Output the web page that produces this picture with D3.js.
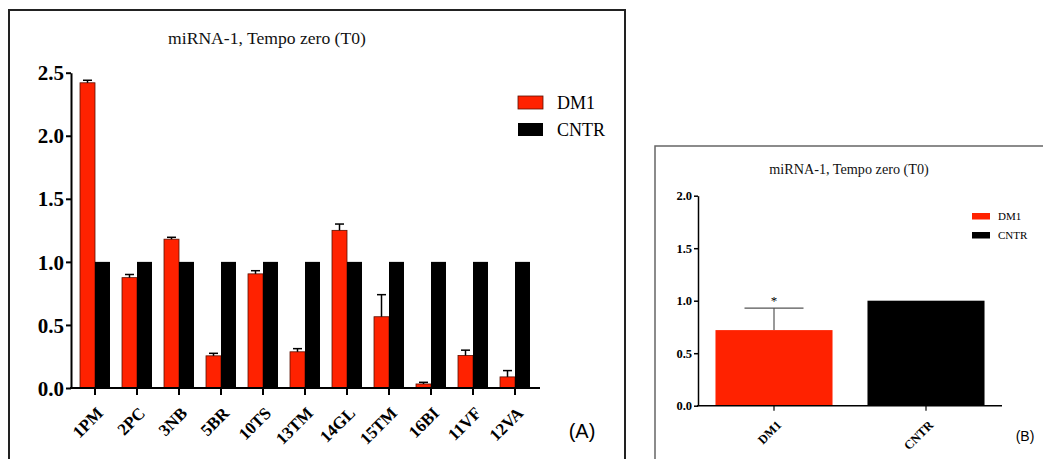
<!DOCTYPE html>
<html>
<head>
<meta charset="utf-8">
<script src="https://cdn.jsdelivr.net/npm/d3@7"></script>
<style>
body { margin: 0; background: #fff; }
svg { display: block; }
</style>
</head>
<body>
<script>
// data
const patients = ["1PM", "2PC", "3NB", "5BR", "10TS", "13TM", "14GL", "15TM", "16BI", "11VF", "12VA"];
const dm1 = [2.42, 0.875, 1.18, 0.255, 0.905, 0.287, 1.25, 0.565, 0.032, 0.258, 0.088];
const dm1Err = [0.02, 0.025, 0.015, 0.02, 0.025, 0.025, 0.05, 0.175, 0.013, 0.042, 0.05];
const cntr = [1, 1, 1, 1, 1, 1, 1, 1, 1, 1, 1];
const yTicksA = [0, 0.5, 1, 1.5, 2, 2.5];

const groupsB = ["DM1", "CNTR"];
const meansB = [0.72, 1.0];
const errB = [0.21, 0];
const yTicksB = [0, 0.5, 1, 1.5, 2];

const series = ["DM1", "CNTR"];
const colors = {DM1: "#ff2200", CNTR: "#000000"};
const serif = "'Liberation Serif', 'Times New Roman', serif";
const sans = "'Liberation Sans', Arial, sans-serif";

const W = 1043, H = 459;
const svg = d3.select("body").append("svg")
  .attr("width", W)
  .attr("height", H);

// ---------- panel A ----------
svg.append("rect")
  .attr("x", 9).attr("y", 10)
  .attr("width", 616).attr("height", 500)
  .attr("fill", "none").attr("stroke", "#222").attr("stroke-width", 2);

const yA = d3.scaleLinear().domain([0, 2.5]).range([388, 72.7]);
const x0 = d3.scaleBand().domain(patients).range([74, 536])
  .paddingInner(0.286).paddingOuter(0.143);
const x1 = d3.scaleBand().domain(series).range([0, x0.bandwidth()]);

const gA = svg.append("g");

gA.append("text")
  .attr("x", 267).attr("y", 44)
  .attr("text-anchor", "middle")
  .attr("fill", "#111")
  .style("font-family", serif).style("font-size", "17.6px")
  .text("miRNA-1, Tempo zero (T0)");

// bars
const rowsA = patients.map((p, i) => ({p: p, DM1: dm1[i], CNTR: cntr[i], err: dm1Err[i]}));

const grp = gA.selectAll("g.grp")
  .data(rowsA)
  .enter()
  .append("g")
  .attr("class", "grp")
  .attr("transform", d => "translate(" + x0(d.p) + ",0)");

grp.selectAll("rect")
  .data(d => series.map(s => ({s: s, v: d[s]})))
  .enter()
  .append("rect")
  .attr("x", d => x1(d.s))
  .attr("width", x1.bandwidth())
  .attr("y", d => yA(d.v))
  .attr("height", d => yA(0) - yA(d.v))
  .attr("fill", d => colors[d.s])
  .attr("stroke", d => d.s == "DM1" ? "#5a1000" : "none")
  .attr("stroke-width", 0.8);

// error bars (upper only)
const eb = grp.append("g")
  .attr("stroke", "#000").attr("stroke-width", 1.5);
eb.append("line")
  .attr("x1", x1("DM1") + x1.bandwidth() / 2)
  .attr("x2", x1("DM1") + x1.bandwidth() / 2)
  .attr("y1", d => yA(d.DM1))
  .attr("y2", d => yA(d.DM1 + d.err));
eb.append("line")
  .attr("x1", x1("DM1") + x1.bandwidth() / 2 - 4.5)
  .attr("x2", x1("DM1") + x1.bandwidth() / 2 + 4.5)
  .attr("y1", d => yA(d.DM1 + d.err))
  .attr("y2", d => yA(d.DM1 + d.err));

// y axis
const axA = gA.append("g")
  .attr("transform", "translate(71,0)")
  .call(d3.axisLeft(yA).tickValues(yTicksA).tickFormat(d3.format(".1f")).tickSize(5).tickSizeOuter(0).tickPadding(2));
axA.select(".domain").attr("stroke-width", 2);
axA.selectAll(".tick line").attr("stroke-width", 2);
axA.selectAll("text")
  .style("font-family", serif).style("font-size", "21px").style("font-weight", "bold")
  .attr("dy", "0.34em");

// x axis
gA.append("line")
  .attr("x1", 70).attr("x2", 540)
  .attr("y1", yA(0)).attr("y2", yA(0))
  .attr("stroke", "#000").attr("stroke-width", 2);
const xt = gA.selectAll("g.xt")
  .data(patients)
  .enter()
  .append("g")
  .attr("class", "xt")
  .attr("transform", d => "translate(" + (x0(d) + x0.bandwidth() / 2) + "," + yA(0) + ")");
xt.append("line").attr("y2", 7).attr("stroke", "#000").attr("stroke-width", 2);
xt.append("text")
  .attr("transform", "translate(5,22) rotate(-45)")
  .attr("text-anchor", "end")
  .attr("dy", "0.35em")
  .style("font-family", serif).style("font-size", "17px").style("font-weight", "bold")
  .text(d => d);

// legend
const legA = gA.selectAll("g.leg")
  .data(series)
  .enter()
  .append("g")
  .attr("class", "leg")
  .attr("transform", (d, i) => "translate(518," + (96 + i * 27) + ")");
legA.append("rect")
  .attr("width", 25).attr("height", 13)
  .attr("fill", d => colors[d])
  .attr("stroke", d => d == "DM1" ? "#5a1000" : "none").attr("stroke-width", 0.8);
legA.append("text")
  .attr("x", 39).attr("y", 13)
  .style("font-family", serif).style("font-size", "18px")
  .text(d => d);

gA.append("text")
  .attr("x", 582).attr("y", 438)
  .attr("text-anchor", "middle")
  .style("font-family", sans).style("font-size", "20px")
  .text("(A)");

// ---------- panel B ----------
svg.append("rect")
  .attr("x", 655).attr("y", 146)
  .attr("width", 420).attr("height", 400)
  .attr("fill", "none").attr("stroke", "#666").attr("stroke-width", 1.5);

const yB = d3.scaleLinear().domain([0, 2]).range([405.7, 195.7]);
const xB = d3.scaleBand().domain(groupsB).range([698, 1002])
  .paddingInner(0.23).paddingOuter(0.115);

const gB = svg.append("g");

gB.append("text")
  .attr("x", 849).attr("y", 174)
  .attr("text-anchor", "middle")
  .attr("fill", "#111")
  .style("font-family", serif).style("font-size", "14.2px")
  .text("miRNA-1, Tempo zero (T0)");

gB.selectAll("rect.bar")
  .data(groupsB)
  .enter()
  .append("rect")
  .attr("class", "bar")
  .attr("x", d => xB(d))
  .attr("width", xB.bandwidth())
  .attr("y", (d, i) => yB(meansB[i]))
  .attr("height", (d, i) => yB(0) - yB(meansB[i]))
  .attr("fill", d => colors[d]);

// error bar + significance mark on DM1
const cx = xB("DM1") + xB.bandwidth() / 2;
const ebB = gB.append("g").attr("stroke", "#555").attr("stroke-width", 1.2);
ebB.append("line")
  .attr("x1", cx).attr("x2", cx)
  .attr("y1", yB(meansB[0])).attr("y2", yB(meansB[0] + errB[0]));
ebB.append("line")
  .attr("x1", cx - 29.5).attr("x2", cx + 29.5)
  .attr("y1", yB(meansB[0] + errB[0])).attr("y2", yB(meansB[0] + errB[0]));
gB.append("text")
  .attr("x", cx).attr("y", yB(meansB[0] + errB[0]) - 3)
  .attr("text-anchor", "middle")
  .attr("fill", "#000")
  .style("font-family", serif).style("font-size", "13px")
  .text("*");

const axB = gB.append("g")
  .attr("transform", "translate(698,0)")
  .call(d3.axisLeft(yB).tickValues(yTicksB).tickFormat(d3.format(".1f")).tickSize(4).tickSizeOuter(0).tickPadding(2));
axB.select(".domain").attr("stroke-width", 1.5);
axB.selectAll(".tick line").attr("stroke-width", 1.5);
axB.selectAll("text")
  .style("font-family", serif).style("font-size", "12.5px").style("font-weight", "bold");

gB.append("line")
  .attr("x1", 697).attr("x2", 1002)
  .attr("y1", yB(0)).attr("y2", yB(0))
  .attr("stroke", "#000").attr("stroke-width", 1.5);
const xtB = gB.selectAll("g.xtb")
  .data(groupsB)
  .enter()
  .append("g")
  .attr("class", "xtb")
  .attr("transform", d => "translate(" + (xB(d) + xB.bandwidth() / 2) + "," + yB(0) + ")");
xtB.append("line").attr("y2", 5).attr("stroke", "#000").attr("stroke-width", 1.2);
xtB.append("text")
  .attr("transform", "translate(5,17) rotate(-45)")
  .attr("text-anchor", "end")
  .attr("dy", "0.35em")
  .style("font-family", serif).style("font-size", "12.5px").style("font-weight", "bold")
  .text(d => d);

const legB = gB.selectAll("g.legb")
  .data(series)
  .enter()
  .append("g")
  .attr("class", "legb")
  .attr("transform", (d, i) => "translate(972," + (213 + i * 19) + ")");
legB.append("rect")
  .attr("width", 18).attr("height", 6.5)
  .attr("fill", d => colors[d]);
legB.append("text")
  .attr("x", 26).attr("y", 7)
  .style("font-family", serif).style("font-size", "11px")
  .text(d => d);

gB.append("text")
  .attr("x", 1025).attr("y", 441)
  .attr("text-anchor", "middle")
  .style("font-family", sans).style("font-size", "14px")
  .text("(B)");
</script>
</body>
</html>
